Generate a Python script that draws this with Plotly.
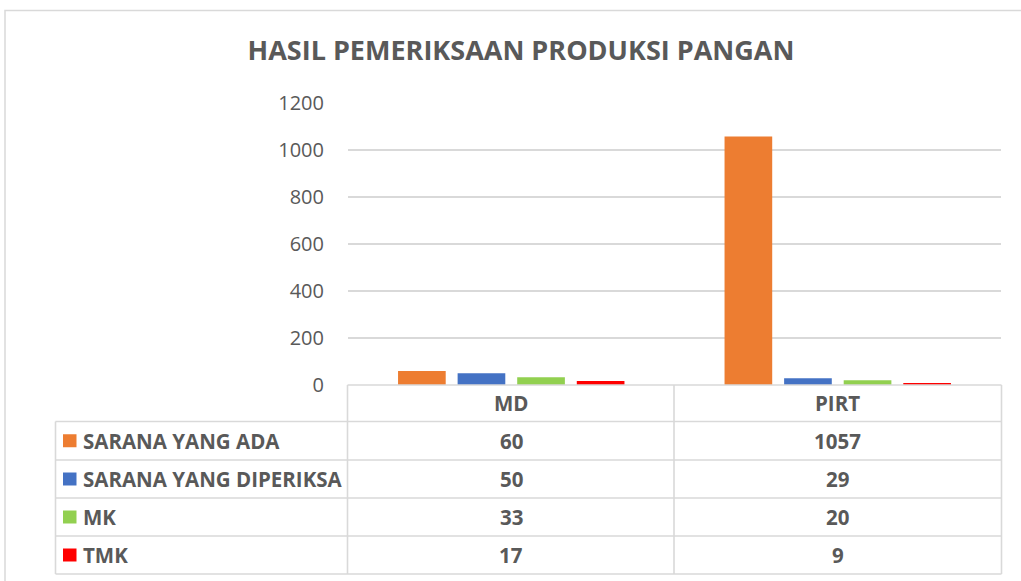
import plotly.graph_objects as go

# ---------------- data ----------------
title_text = "HASIL PEMERIKSAAN PRODUKSI PANGAN"
categories = ["MD", "PIRT"]
series_names = ["SARANA YANG ADA", "SARANA YANG DIPERIKSA", "MK", "TMK"]
sarana_ada = [60, 1057]
sarana_diperiksa = [50, 29]
mk = [33, 20]
tmk = [17, 9]
series_colors = ["#ED7D31", "#4472C4", "#92D050", "#FF0000"]
y_tick_values = [0, 200, 400, 600, 800, 1000, 1200]

series_values = [sarana_ada, sarana_diperiksa, mk, tmk]

# ---------------- layout geometry (pixels) ----------------
W, H = 1021, 581
L, R, T, B = 348, 20, 103, 196
PW, PH = W - L - R, H - T - B
TEXT = "#595959"
GRID = "#D9D9D9"
FONT = "Open Sans"


def px_x(px):
    return (px - L) / PW


def px_y(py):
    return (H - B - py) / PH


fig = go.Figure()
for name, vals, col in zip(series_names, series_values, series_colors):
    fig.add_trace(go.Bar(name=name, x=categories, y=vals, marker_color=col,
                         marker_line_width=0))

shapes = []
annotations = []

# outer chart border
shapes.append(dict(type="rect", xref="paper", yref="paper",
                   x0=px_x(5), x1=px_x(1040), y0=px_y(10.5), y1=px_y(600),
                   line=dict(color=GRID, width=1.5), layer="below"))

# data table grid
row_lines = [385, 421.5, 460, 498, 536, 574]
col_lines = [55.5, 347.5, 674, 1001.5]
table_line = dict(color=GRID, width=1.6)
for i, yy in enumerate(row_lines):
    x0 = col_lines[1] if i == 0 else col_lines[0]
    shapes.append(dict(type="line", xref="paper", yref="paper",
                       x0=px_x(x0), x1=px_x(col_lines[-1]), y0=px_y(yy), y1=px_y(yy),
                       line=table_line))
for j, xx in enumerate(col_lines):
    y0 = row_lines[1] if j == 0 else row_lines[0]
    shapes.append(dict(type="line", xref="paper", yref="paper",
                       x0=px_x(xx), x1=px_x(xx), y0=px_y(y0), y1=px_y(row_lines[-1]),
                       line=table_line))

cell_font = dict(family=FONT, size=20.5, color=TEXT, weight="bold")

# header row: category names
for cat in categories:
    annotations.append(dict(x=cat, xref="x", y=px_y(403), yref="paper",
                            text=cat, showarrow=False, font=cell_font,
                            xanchor="center", yanchor="middle"))

# body rows
for i, (name, vals, col) in enumerate(zip(series_names, series_values, series_colors)):
    top, bot = row_lines[i + 1], row_lines[i + 2]
    cy = (top + bot) / 2
    shapes.append(dict(type="rect", xref="paper", yref="paper",
                       x0=px_x(63), x1=px_x(76.5), y0=px_y(cy - 6.5), y1=px_y(cy + 6.5),
                       fillcolor=col, line=dict(width=0)))
    annotations.append(dict(x=px_x(81), xref="paper", y=px_y(cy), yref="paper",
                            text=name, showarrow=False, font=cell_font,
                            xanchor="left", yanchor="middle"))
    for cat, v in zip(categories, vals):
        annotations.append(dict(x=cat, xref="x", y=px_y(cy), yref="paper",
                                text=str(v), showarrow=False, font=cell_font,
                                xanchor="center", yanchor="middle"))

fig.update_layout(
    width=W, height=H,
    margin=dict(l=L, r=R, t=T, b=B, pad=0),
    paper_bgcolor="white", plot_bgcolor="white",
    showlegend=False,
    barmode="group", bargap=0.27, bargroupgap=0.2,
    title=dict(text=title_text, x=521 / W, xref="container", xanchor="center",
               y=1 - 51 / H, yref="container", yanchor="middle",
               font=dict(family=FONT, size=27, color=TEXT, weight="bold")),
    xaxis=dict(showticklabels=False, showgrid=False, zeroline=False,
               showline=False, ticks=""),
    yaxis=dict(range=[0, 1200], tickvals=y_tick_values, showgrid=True,
               gridcolor=GRID, gridwidth=1.5, zeroline=False, showline=False,
               ticks="", ticklabelstandoff=23,
               tickfont=dict(family=FONT, size=20, color=TEXT)),
    shapes=shapes,
    annotations=annotations,
    font=dict(family=FONT, color=TEXT),
)

fig.write_html("out.html", config={"displayModeBar": False},
               post_script="document.body.style.margin='0';document.body.style.overflow='hidden';")
